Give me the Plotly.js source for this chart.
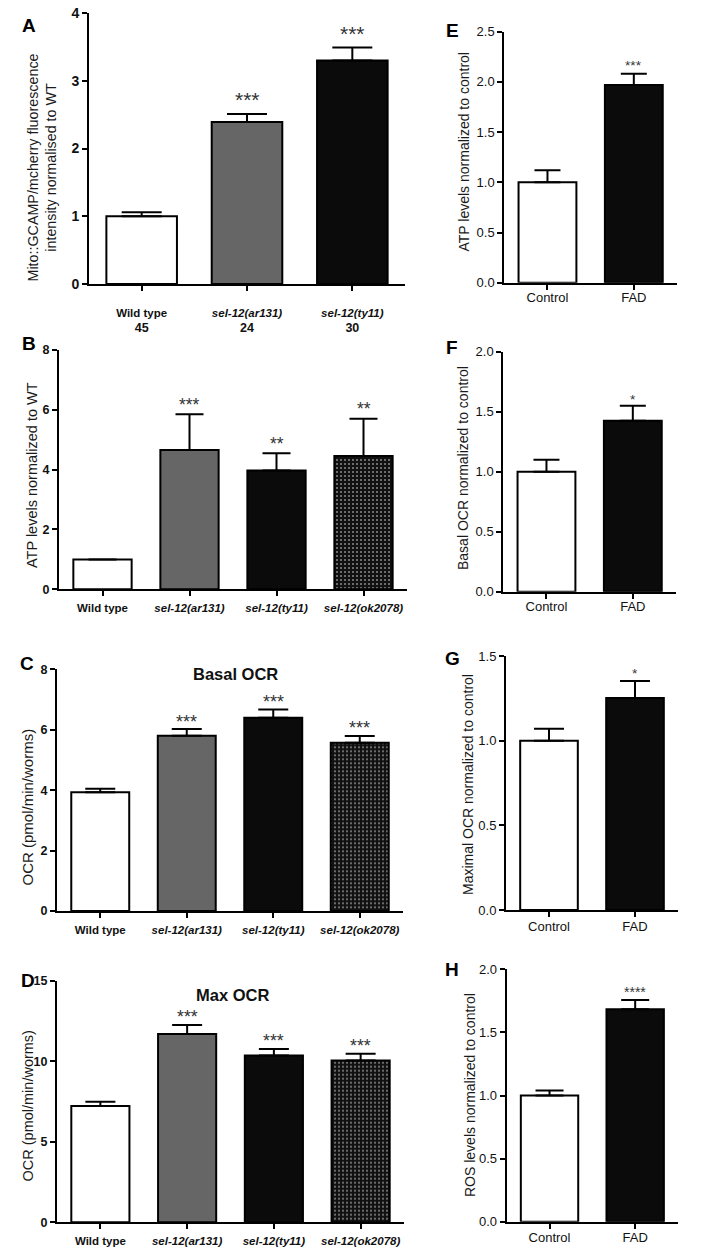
<!DOCTYPE html>
<html>
<head>
<meta charset="utf-8">
<script src="https://cdn.plot.ly/plotly-3.0.1.min.js"></script>
<style>html,body{margin:0;padding:0;background:#fff;}#chart{width:709px;height:1248px;}</style>
</head>
<body>
<div id="chart"></div>
<script>
// ---------- DATA ----------
const aCats = ['Wild type', 'sel-12(ar131)', 'sel-12(ty11)'];
const aN = ['45', '24', '30'];
const aVals = [1.00, 2.39, 3.30];
const aErr = [0.06, 0.12, 0.19];
const aSig = ['', '***', '***'];

const mutCats = ['Wild type', 'sel-12(ar131)', 'sel-12(ty11)', 'sel-12(ok2078)'];
const bVals = [1.00, 4.66, 3.97, 4.46];
const bErr = [0, 1.19, 0.58, 1.24];
const bSig = ['', '***', '**', '**'];

const cVals = [3.93, 5.80, 6.40, 5.57];
const cErr = [0.12, 0.22, 0.27, 0.22];
const cSig = ['', '***', '***', '***'];

const dVals = [7.22, 11.69, 10.35, 10.04];
const dErr = [0.27, 0.56, 0.41, 0.43];
const dSig = ['', '***', '***', '***'];

const fadCats = ['Control', 'FAD'];
const eVals = [1.00, 1.97];  const eErr = [0.12, 0.11];  const eSig = ['', '***'];
const fVals = [1.00, 1.425]; const fErr = [0.10, 0.125]; const fSig = ['', '*'];
const gVals = [1.00, 1.252]; const gErr = [0.07, 0.10];  const gSig = ['', '*'];
const hVals = [1.00, 1.683]; const hErr = [0.04, 0.074]; const hSig = ['', '****'];

const yTitles = [
  'Mito::GCAMP/mcherry fluorescence<br>intensity normalised to WT',
  'ATP levels normalized to WT',
  'OCR (pmol/min/worms)',
  'OCR (pmol/min/worms)',
  'ATP levels normalized to control',
  'Basal OCR normalized to control',
  'Maximal OCR normalized to control',
  'ROS levels normalized to control'
];

// ---------- STYLE / LAYOUT CONFIG ----------
const W = 709, H = 1248;
const FONT = 'Liberation Sans, Arial, Helvetica, sans-serif';
const leftColors = ['#ffffff', '#666666', '#0b0b0b', '#111111'];
const rightColors = ['#ffffff', '#0b0b0b'];

function fmtMut(c) {
  return c.startsWith('sel') ? '<i>' + c + '</i>' : c;
}

const panels = [
  {letter: 'A', cats: aCats, vals: aVals, errs: aErr, sig: aSig, colors: leftColors,
   tickText: aCats.map((c, i) => fmtMut(c) + '<br><span style="font-size:12.5px">' + aN[i] + '</span>'),
   px: [89, 405], py: [13, 284], range: [0, 4], dtick: 1, bold: true, yTickSize: 14, xTickSize: 11.5,
   xStand: 12, titleSize: 14.3, titlePos: [42.5, 168],
   cap: 20, sigSize: 21, sigShift: 1, letterPos: [29, 25]},
  {letter: 'B', cats: mutCats, vals: bVals, errs: bErr, sig: bSig, colors: leftColors,
   px: [59, 407], py: [350, 589.3], range: [0, 8], dtick: 2, bold: true, yTickSize: 12.5, xTickSize: 11.5,
   xStand: 2, titleSize: 14.5, titlePos: [32, 475],
   cap: 14, sigSize: 17.5, sigShift: -2.5, letterPos: [28.5, 343.7]},
  {letter: 'C', cats: mutCats, vals: cVals, errs: cErr, sig: cSig, colors: leftColors,
   px: [57, 403], py: [669.3, 911], range: [0, 8], dtick: 2, bold: true, yTickSize: 12.5, xTickSize: 11.5,
   xStand: 2, titleSize: 15, titlePos: [27, 807.5],
   cap: 15, sigSize: 18, sigShift: -4.4, letterPos: [27, 663.5],
   head: 'Basal OCR', headX: 0.516, headShift: -5},
  {letter: 'D', cats: mutCats, vals: dVals, errs: dErr, sig: dSig, colors: leftColors,
   px: [57, 404], py: [980.7, 1222.3], range: [0, 15], dtick: 5, bold: true, yTickSize: 12.5, xTickSize: 11.5,
   xStand: 2, titleSize: 14.5, titlePos: [27, 1106.5],
   cap: 15, sigSize: 17.7, sigShift: -4, letterPos: [28, 980],
   head: 'Max OCR', headX: 0.506, headShift: -14},
  {letter: 'E', cats: fadCats, vals: eVals, errs: eErr, sig: eSig, colors: rightColors,
   px: [504.3, 677], py: [31.7, 282.7], range: [0, 2.5], dtick: 0.5, bold: false, yTickSize: 13, xTickSize: 13,
   xStand: -3, titleSize: 14, titlePos: [464, 152.5],
   cap: 13, sigSize: 13.7, sigShift: -1, letterPos: [452, 30]},
  {letter: 'F', cats: fadCats, vals: fVals, errs: fErr, sig: fSig, colors: rightColors,
   px: [503.3, 676], py: [351.7, 591.7], range: [0, 2.0], dtick: 0.5, bold: false, yTickSize: 13, xTickSize: 13,
   xStand: -3, titleSize: 14, titlePos: [463, 468],
   cap: 13, sigSize: 13.7, sigShift: -3.6, letterPos: [452, 347]},
  {letter: 'G', cats: fadCats, vals: gVals, errs: gErr, sig: gSig, colors: rightColors,
   px: [506, 678], py: [656, 910], range: [0, 1.5], dtick: 0.5, bold: false, yTickSize: 13, xTickSize: 13,
   xStand: -2, titleSize: 14, titlePos: [468, 785],
   cap: 15, sigSize: 13.7, sigShift: -1.7, letterPos: [452, 658]},
  {letter: 'H', cats: fadCats, vals: hVals, errs: hErr, sig: hSig, colors: rightColors,
   px: [506.7, 678], py: [969.3, 1221.7], range: [0, 2.0], dtick: 0.5, bold: false, yTickSize: 13, xTickSize: 13,
   xStand: -2, titleSize: 14, titlePos: [470, 1095],
   cap: 14, sigSize: 14, sigShift: -2, letterPos: [452, 969]}
];

const data = [];
const layout = {
  width: W, height: H,
  margin: {l: 0, r: 0, t: 0, b: 0},
  paper_bgcolor: '#ffffff', plot_bgcolor: 'rgba(0,0,0,0)',
  showlegend: false, bargap: 0.33,
  font: {family: FONT, color: '#111111'},
  annotations: []
};

panels.forEach((p, k) => {
  const n = k + 1;
  const sx = n === 1 ? '' : String(n);
  const xa = 'x' + sx, ya = 'y' + sx;
  const shapes = p.cats.map(c => (c === 'sel-12(ok2078)' ? '.' : ''));
  data.push({
    type: 'bar', x: p.cats, y: p.vals, xaxis: xa, yaxis: ya, width: 0.67,
    marker: {
      color: p.colors.slice(0, p.cats.length),
      line: {color: '#000000', width: 2},
      pattern: {shape: shapes, fgcolor: '#ffffff', bgcolor: '#111111', size: 4, solidity: 0.2, fillmode: 'overlay'}
    },
    error_y: {type: 'data', symmetric: false, array: p.errs, arrayminus: p.errs.map(() => 0),
              color: '#000000', thickness: 2, width: p.cap},
    hoverinfo: 'skip'
  });
  layout['xaxis' + sx] = {
    domain: [p.px[0] / W, p.px[1] / W], anchor: ya,
    type: 'category', range: [-0.5, p.cats.length - 0.5],
    showline: true, linecolor: '#000000', linewidth: 2,
    ticks: 'outside', ticklen: 5, tickwidth: 2, tickcolor: '#000000',
    tickmode: 'array', tickvals: p.cats,
    ticktext: p.tickText || p.cats.map(fmtMut),
    tickfont: {family: FONT, size: p.xTickSize, color: '#111111', weight: p.bold ? 'bold' : 'normal'},
    ticklabelstandoff: p.xStand,
    showgrid: false, zeroline: false, fixedrange: true
  };
  layout['yaxis' + sx] = {
    domain: [1 - p.py[1] / H, 1 - p.py[0] / H], anchor: xa,
    range: p.range, tick0: 0, dtick: p.dtick,
    tickformat: p.bold ? '' : '.1f',
    showline: true, linecolor: '#000000', linewidth: 2,
    ticks: 'outside', ticklen: 5, tickwidth: 2, tickcolor: '#000000',
    tickfont: {family: FONT, size: p.yTickSize, color: '#111111', weight: p.bold ? 'bold' : 'normal'},
    showgrid: false, zeroline: false, fixedrange: true
  };
  // y-axis title (rotated text placed beside the axis)
  layout.annotations.push({
    xref: 'paper', yref: 'paper', x: p.titlePos[0] / W, y: 1 - p.titlePos[1] / H,
    xanchor: 'center', yanchor: 'middle', textangle: -90, text: yTitles[k], showarrow: false,
    font: {family: FONT, size: p.titleSize, color: '#1a1a1a'}
  });
  p.sig.forEach((s, i) => {
    if (!s) return;
    layout.annotations.push({
      xref: xa, yref: ya, x: p.cats[i], y: p.vals[i] + p.errs[i], text: s, showarrow: false,
      yanchor: 'bottom', yshift: p.sigShift,
      font: {family: FONT, size: p.sigSize, color: '#333333'}
    });
  });
  layout.annotations.push({
    xref: 'paper', yref: 'paper', x: p.letterPos[0] / W, y: 1 - p.letterPos[1] / H,
    xanchor: 'center', yanchor: 'middle', text: '<b>' + p.letter + '</b>', showarrow: false,
    font: {family: FONT, size: 19, color: '#000000'}
  });
  if (p.head) {
    layout.annotations.push({
      xref: xa + ' domain', yref: ya + ' domain', x: p.headX, y: 1, xanchor: 'center', yanchor: 'middle',
      yshift: p.headShift, text: '<b>' + p.head + '</b>', showarrow: false,
      font: {family: FONT, size: 16.5, color: '#111111'}
    });
  }
});

Plotly.newPlot('chart', data, layout, {staticPlot: true, displayModeBar: false});
</script>
</body>
</html>
